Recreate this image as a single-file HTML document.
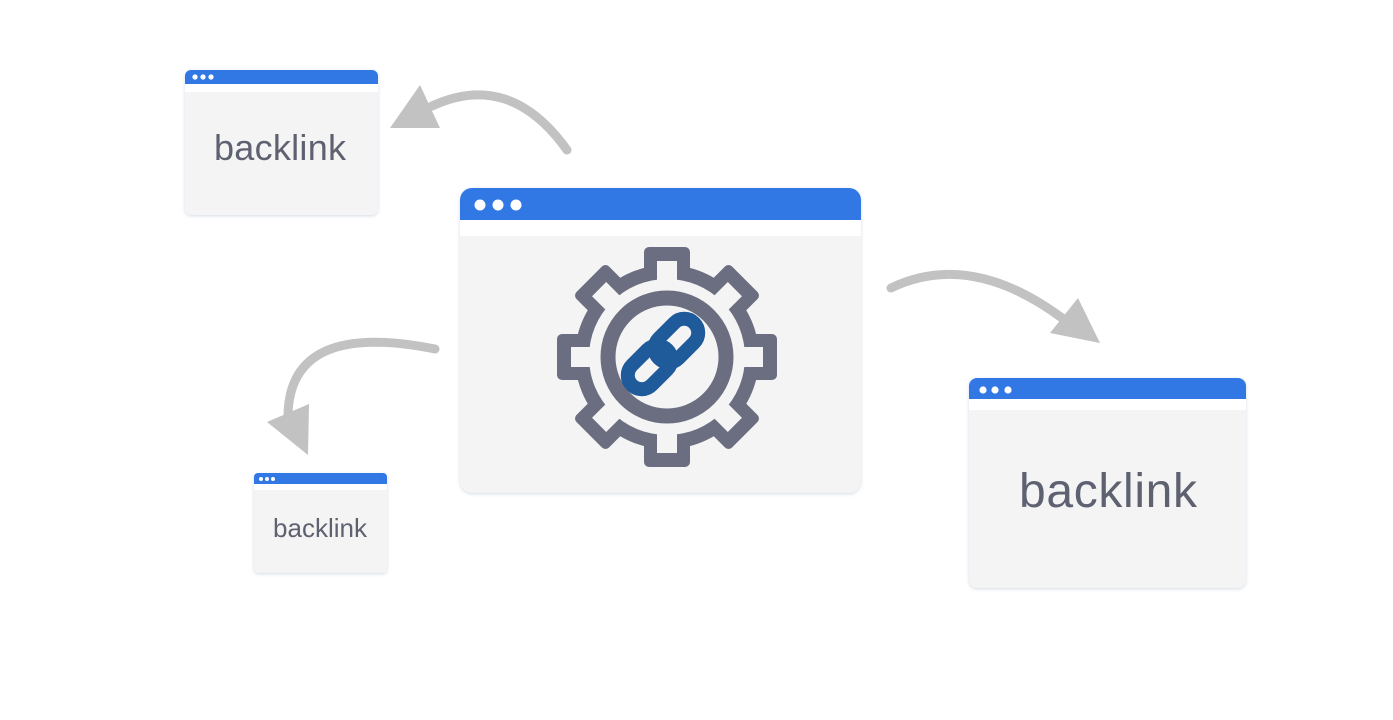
<!DOCTYPE html>
<html><head><style>html,body{margin:0;padding:0;background:#fff;}svg{display:block}</style></head>
<body>
<svg width="1393" height="720" viewBox="0 0 1393 720" xmlns="http://www.w3.org/2000/svg">
<defs>
<filter id="sh" x="-10%" y="-10%" width="120%" height="120%"><feDropShadow dx="0" dy="1" stdDeviation="1.5" flood-color="#b8c4d4" flood-opacity="0.6"/></filter>
</defs>
<g fill="none" stroke="#c2c2c2" stroke-width="9" stroke-linecap="round">
<path d="M567,150 Q510,70 432,106"/>
<path d="M891,288 Q970,250 1062,318"/>
<path d="M435,349 Q290,320 288,415"/>
</g>
<g fill="#c2c2c2">
<polygon points="390,128 420,85 440,128"/>
<polygon points="1050,333 1078,298 1100,343"/>
<polygon points="267,422 309,404 308,455"/>
</g>
<g filter="url(#sh)">
<rect x="185" y="70" width="193" height="145" rx="6" fill="#f4f4f4"/>
<path d="M185,84 V76 a6,6 0 0 1 6,-6 H372 a6,6 0 0 1 6,6 V84 Z" fill="#3278e5"/>
<rect x="185" y="84" width="193" height="8" fill="#fff"/>
</g>
<g fill="#fff"><circle cx="195" cy="77" r="2.6"/><circle cx="203" cy="77" r="2.6"/><circle cx="211" cy="77" r="2.6"/></g>
<text x="280" y="160" text-anchor="middle" font-family="Liberation Sans, sans-serif" font-size="36" fill="#5e6170" textLength="132">backlink</text>
<g filter="url(#sh)">
<rect x="254" y="473" width="133" height="100" rx="4" fill="#f4f4f4"/>
<path d="M254,484 V477 a4,4 0 0 1 4,-4 H383 a4,4 0 0 1 4,4 V484 Z" fill="#3278e5"/>
<rect x="254" y="484" width="133" height="6" fill="#fff"/>
</g>
<g fill="#fff"><circle cx="261" cy="479" r="2"/><circle cx="267" cy="479" r="2"/><circle cx="273" cy="479" r="2"/></g>
<text x="320" y="537" text-anchor="middle" font-family="Liberation Sans, sans-serif" font-size="26" fill="#5e6170">backlink</text>
<g filter="url(#sh)">
<rect x="969" y="378" width="277" height="210" rx="8" fill="#f4f4f4"/>
<path d="M969,399 V386 a8,8 0 0 1 8,-8 H1238 a8,8 0 0 1 8,8 V399 Z" fill="#3278e5"/>
<rect x="969" y="399" width="277" height="11" fill="#fff"/>
</g>
<g fill="#fff"><circle cx="983" cy="390" r="3.6"/><circle cx="995" cy="390" r="3.6"/><circle cx="1008" cy="390" r="3.6"/></g>
<text x="1108" y="507" text-anchor="middle" font-family="Liberation Sans, sans-serif" font-size="48" fill="#5e6170" textLength="178">backlink</text>
<g filter="url(#sh)">
<rect x="460" y="188" width="401" height="305" rx="12" fill="#f4f4f4"/>
<path d="M460,220 V200 a12,12 0 0 1 12,-12 H849 a12,12 0 0 1 12,12 V220 Z" fill="#3278e5"/>
<rect x="460" y="220" width="401" height="16" fill="#fff"/>
</g>
<g fill="#fff"><circle cx="480" cy="205" r="5.5"/><circle cx="498" cy="205" r="5.5"/><circle cx="516" cy="205" r="5.5"/></g>
<g transform="translate(667,357)">
<g fill="#6b6e80">
<circle r="92"/>
<g id="t"><rect x="-23" y="-110" width="46" height="40" rx="5"/></g>
<use href="#t" transform="rotate(45)"/><use href="#t" transform="rotate(90)"/><use href="#t" transform="rotate(135)"/>
<use href="#t" transform="rotate(180)"/><use href="#t" transform="rotate(225)"/><use href="#t" transform="rotate(270)"/><use href="#t" transform="rotate(315)"/>
</g>
<g fill="#f4f4f4">
<circle r="78"/>
<g id="l"><rect x="-10" y="-96" width="20" height="40"/></g>
<use href="#l" transform="rotate(45)"/><use href="#l" transform="rotate(90)"/><use href="#l" transform="rotate(135)"/>
<use href="#l" transform="rotate(180)"/><use href="#l" transform="rotate(225)"/><use href="#l" transform="rotate(270)"/><use href="#l" transform="rotate(315)"/>
</g>
<circle r="59" fill="none" stroke="#6b6e80" stroke-width="15"/>
<g fill="none" stroke="#1f5a9a" stroke-width="14" transform="translate(-4,-3) rotate(-45)">
<rect x="-6" y="-14" width="50" height="28" rx="14"/>
<rect x="-44" y="-14" width="50" height="28" rx="14"/>
</g>
</g>
</svg>
</body></html>
